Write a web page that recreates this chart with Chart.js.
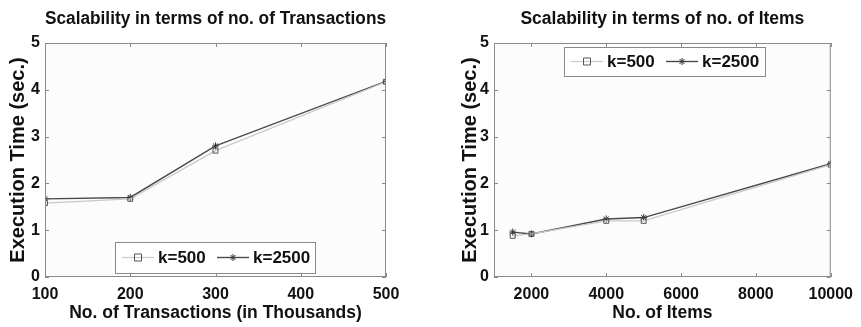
<!DOCTYPE html>
<html>
<head>
<meta charset="utf-8">
<script src="https://cdn.jsdelivr.net/npm/chart.js@4"></script>
<style>
  body { margin: 0; background: #fff; }
  .wrap { display: flex; width: 861px; height: 327px; }
  .box1 { position: relative; width: 430px; height: 327px; }
  .box2 { position: relative; width: 431px; height: 327px; }
</style>
</head>
<body>
<div class="wrap">
  <div class="box1"><canvas id="transChart"></canvas></div>
  <div class="box2"><canvas id="itemsChart"></canvas></div>
</div>
<script>
// data
var seriesLabels = ["k=500", "k=2500"];
var transX = [100, 200, 300, 500];
var trans500 = [1.58, 1.67, 2.70, 4.17];
var trans2500 = [1.67, 1.70, 2.80, 4.18];
var itemsX = [1500, 2000, 4000, 5000, 10000];
var items500 = [0.88, 0.92, 1.20, 1.20, 2.40];
var items2500 = [0.96, 0.92, 1.24, 1.27, 2.42];
var yTicks = [0, 1, 2, 3, 4, 5];
var transTicks = [100, 200, 300, 400, 500];
var itemsTicks = [2000, 4000, 6000, 8000, 10000];

var FONT = "'Liberation Sans', Arial, sans-serif";
var lightLine = "#c9c9c9";
var darkLine = "#4a4a4a";
var frameColor = "#8a8a8a";

function drawMarker(ctx, style, x, y, r, color) {
  ctx.save();
  ctx.strokeStyle = color;
  ctx.lineWidth = 1;
  ctx.beginPath();
  if (style === "rect") {
    ctx.rect(x - r, y - r, 2 * r, 2 * r);
  } else {
    for (var i = 0; i < 4; i++) {
      var ang = i * Math.PI / 4;
      ctx.moveTo(x - r * Math.cos(ang), y - r * Math.sin(ang));
      ctx.lineTo(x + r * Math.cos(ang), y + r * Math.sin(ang));
    }
  }
  ctx.stroke();
  ctx.restore();
}

// matlab-ish box: bg, frame, inward ticks, legend inside plot
var matBox = {
  id: "matBox",
  beforeDraw: function (chart) {
    var a = chart.chartArea, ctx = chart.ctx;
    ctx.save();
    ctx.fillStyle = "#fcfcfc";
    ctx.fillRect(a.left, a.top, a.right - a.left, a.bottom - a.top);
    ctx.restore();
  },
  afterDatasetsDraw: function (chart, args, opts) {
    var a = chart.chartArea, ctx = chart.ctx;
    var xs = chart.scales.x, ys = chart.scales.y;
    ctx.save();
    ctx.strokeStyle = frameColor;
    ctx.lineWidth = 1;
    ctx.strokeRect(a.left + 0.5, a.top + 0.5, a.right - a.left - 1, a.bottom - a.top - 1);
    ctx.beginPath();
    xs.ticks.forEach(function (t) {
      var px = Math.round(xs.getPixelForValue(t.value)) + 0.5;
      ctx.moveTo(px, a.bottom); ctx.lineTo(px, a.bottom - 4);
      ctx.moveTo(px, a.top); ctx.lineTo(px, a.top + 4);
    });
    ys.ticks.forEach(function (t) {
      var py = Math.round(ys.getPixelForValue(t.value)) + 0.5;
      ctx.moveTo(a.left, py); ctx.lineTo(a.left + 4, py);
      ctx.moveTo(a.right, py); ctx.lineTo(a.right - 4, py);
    });
    ctx.stroke();

    // legend
    var lx = a.left + opts.x, ly = a.top + opts.y;
    ctx.fillStyle = "#ffffff";
    ctx.fillRect(lx, ly, opts.w, opts.h);
    ctx.strokeStyle = frameColor;
    ctx.strokeRect(lx + 0.5, ly + 0.5, opts.w, opts.h);
    var cy = ly + opts.h / 2;
    var offs = [7, 102];
    chart.data.datasets.forEach(function (ds, i) {
      var x0 = lx + offs[i];
      ctx.strokeStyle = ds.borderColor;
      ctx.lineWidth = ds.borderWidth;
      ctx.beginPath();
      ctx.moveTo(x0, cy); ctx.lineTo(x0 + 32, cy);
      ctx.stroke();
      drawMarker(ctx, ds.pointStyle, x0 + 16, cy, 3.5, ds.pointBorderColor);
      ctx.fillStyle = "#111";
      ctx.font = "bold 17px " + FONT;
      ctx.textBaseline = "middle";
      ctx.textAlign = "left";
      ctx.fillText(ds.label, x0 + 36, cy + 1);
    });
    ctx.restore();
  }
};

function makeChart(id, cfg) {
  return new Chart(document.getElementById(id), {
    type: "line",
    data: {
      datasets: [
        {
          label: seriesLabels[0],
          data: cfg.xs.map(function (x, i) { return { x: x, y: cfg.a[i] }; }),
          borderColor: lightLine,
          borderWidth: 1.2,
          pointStyle: "rect",
          pointRadius: 3.5,
          pointBorderColor: "#555",
          pointBackgroundColor: "rgba(0,0,0,0)",
          pointBorderWidth: 1
        },
        {
          label: seriesLabels[1],
          data: cfg.xs.map(function (x, i) { return { x: x, y: cfg.b[i] }; }),
          borderColor: darkLine,
          borderWidth: 1.4,
          pointStyle: "star",
          pointRadius: 3.5,
          pointBorderColor: "#333",
          pointBackgroundColor: "#333",
          pointBorderWidth: 1
        }
      ]
    },
    plugins: [matBox],
    options: {
      responsive: true,
      maintainAspectRatio: false,
      animation: false,
      events: [],
      layout: { padding: { left: 0, right: cfg.padRight, top: 0, bottom: 0 } },
      plugins: {
        legend: { display: false },
        tooltip: { enabled: false },
        title: {
          display: true,
          fullSize: false,
          text: cfg.title,
          color: "#111",
          font: { family: FONT, size: 17.5, weight: "bold" },
          padding: { top: 9, bottom: 13 }
        },
        matBox: cfg.legend
      },
      scales: {
        x: {
          type: "linear",
          min: cfg.xmin,
          max: cfg.xmax,
          afterBuildTicks: function (s) { s.ticks = cfg.xticks.map(function (v) { return { value: v }; }); },
          afterFit: function (s) { s.height = 50; },
          grid: { display: false, drawTicks: false },
          border: { display: false },
          ticks: {
            color: "#111",
            padding: 8,
            maxRotation: 0,
            autoSkip: false,
            font: { family: FONT, size: 16, weight: "bold" },
            callback: function (v) { return String(v); }
          },
          title: {
            display: true,
            text: cfg.xtitle,
            color: "#111",
            font: { family: FONT, size: 17.5, weight: "bold" },
            padding: { top: 3, bottom: 3 }
          }
        },
        y: {
          min: 0,
          max: 5,
          afterBuildTicks: function (s) { s.ticks = yTicks.map(function (v) { return { value: v }; }); },
          afterFit: function (s) { s.width = cfg.yWidth; },
          grid: { display: false, drawTicks: false },
          border: { display: false },
          ticks: {
            color: "#111",
            padding: 5,
            font: { family: FONT, size: 16, weight: "bold" }
          },
          title: {
            display: true,
            text: "Execution Time (sec.)",
            color: "#111",
            font: { family: FONT, size: 20, weight: "bold" },
            padding: { top: cfg.yTitlePad, bottom: cfg.yTitlePad }
          }
        }
      }
    }
  });
}

makeChart("transChart", {
  xs: transX, a: trans500, b: trans2500,
  xmin: 100, xmax: 500, xticks: transTicks,
  title: "Scalability in terms of no. of Transactions",
  xtitle: "No. of Transactions (in Thousands)",
  yWidth: 45, yTitlePad: 6, padRight: 44,
  legend: { x: 70, y: 199, w: 200, h: 31 }
});

makeChart("itemsChart", {
  xs: itemsX, a: items500, b: items2500,
  xmin: 1000, xmax: 10000, xticks: itemsTicks,
  title: "Scalability in terms of no. of Items",
  xtitle: "No. of Items",
  yWidth: 64, yTitlePad: 28, padRight: 26,
  legend: { x: 70, y: 4, w: 201, h: 29 }
});
</script>
</body>
</html>
